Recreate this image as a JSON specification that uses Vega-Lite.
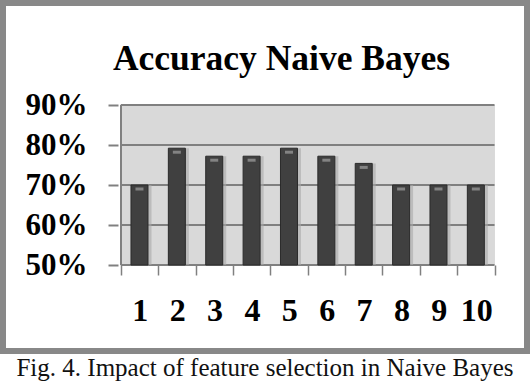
{
  "$schema": "https://vega.github.io/schema/vega-lite/v6.json",
  "autosize": {"type": "none"},
  "width": 524,
  "height": 348,
  "padding": {"left": 3, "top": 3, "right": 3, "bottom": 33},
  "background": "white",
  "config": {
    "view": {"stroke": "#888888", "strokeWidth": 6},
    "title": {"font": "Liberation Serif", "fontWeight": "normal", "fontSize": 25, "color": "#111"}
  },
  "title": {"text": "Fig. 4. Impact of feature selection in Naive Bayes", "orient": "bottom", "offset": 5, "anchor": "middle"},
  "datasets": {
    "bars": [
      {"step": 1, "accuracy": 70.0},
      {"step": 2, "accuracy": 79.2},
      {"step": 3, "accuracy": 77.2},
      {"step": 4, "accuracy": 77.2},
      {"step": 5, "accuracy": 79.2},
      {"step": 6, "accuracy": 77.2},
      {"step": 7, "accuracy": 75.4},
      {"step": 8, "accuracy": 70.0},
      {"step": 9, "accuracy": 70.0},
      {"step": 10, "accuracy": 70.0}
    ],
    "grid": [{"v": 50}, {"v": 60}, {"v": 70}, {"v": 80}, {"v": 90}],
    "titleRow": [{"label": "Accuracy Naive Bayes"}]
  },
  "layer": [
    {
      "data": {"name": "grid"},
      "mark": {"type": "rect", "color": "#d9d9d9"},
      "encoding": {
        "x": {"datum": 0.5, "type": "quantitative", "title": null,
              "scale": {"domain": [-2.518, 11.235], "nice": false, "zero": false},
              "axis": {"values": [0.5,1.5,2.5,3.5,4.5,5.5,6.5,7.5,8.5,9.5,10.5], "offset": -86, "domain": false, "grid": false,
                       "ticks": true, "tickSize": 10, "tickColor": "#808080", "tickWidth": 1.5,
                       "labelExpr": "datum.value < 10 ? '' + (datum.value + 0.5) : ''", "labelOffset": 19,
                       "labelFlush": false, "labelOverlap": false, "labelBound": false,
                       "labelFont": "Liberation Serif", "labelFontWeight": "bold", "labelFontSize": 32, "labelColor": "#000",
                       "labelPadding": 20, "title": null}},
        "x2": {"datum": 10.5},
        "y": {"datum": 50, "type": "quantitative", "title": null,
              "scale": {"domain": [28.5, 115.5], "nice": false, "zero": false},
              "axis": {"values": [50, 60, 70, 80, 90], "offset": -115, "domain": false, "grid": false,
                       "ticks": true, "tickSize": 10, "tickColor": "#808080", "tickWidth": 2,
                       "labelExpr": "datum.value + '%'", "labelFlush": false, "labelOverlap": false, "labelBound": false,
                       "labelFont": "Liberation Serif", "labelFontWeight": "bold", "labelFontSize": 31, "labelColor": "#000",
                       "labelPadding": 21, "title": null}},
        "y2": {"datum": 90}
      }
    },
    {
      "data": {"name": "grid"},
      "mark": {"type": "rule", "color": "#808080", "strokeWidth": 2},
      "encoding": {
        "x": {"datum": 0.5, "type": "quantitative"},
        "x2": {"datum": 10.5},
        "y": {"field": "v", "type": "quantitative", "title": null}
      }
    },
    {
      "data": {"name": "grid"},
      "mark": {"type": "rule", "color": "#808080", "strokeWidth": 1.5},
      "encoding": {
        "x": {"datum": 0.5, "type": "quantitative"},
        "y": {"datum": 50, "type": "quantitative"},
        "y2": {"datum": 90}
      }
    },
    {
      "data": {"name": "bars"},
      "mark": {"type": "bar", "width": 16, "xOffset": 4, "color": "#a8a8a8", "opacity": 0.6},
      "encoding": {
        "x": {"field": "step", "type": "quantitative", "title": null},
        "y": {"field": "accuracy", "type": "quantitative", "title": null},
        "y2": {"datum": 50}
      }
    },
    {
      "data": {"name": "bars"},
      "mark": {"type": "bar", "width": 17, "color": "#404040", "stroke": "#2a2a2a", "strokeWidth": 1},
      "encoding": {
        "x": {"field": "step", "type": "quantitative", "title": null},
        "y": {"field": "accuracy", "type": "quantitative", "title": null},
        "y2": {"datum": 50}
      }
    },
    {
      "data": {"name": "bars"},
      "mark": {"type": "tick", "orient": "horizontal", "size": 8, "thickness": 3, "yOffset": 4, "color": "#a0a0a0"},
      "encoding": {
        "x": {"field": "step", "type": "quantitative", "title": null},
        "y": {"field": "accuracy", "type": "quantitative", "title": null}
      }
    },
    {
      "data": {"name": "titleRow"},
      "mark": {"type": "text", "font": "Liberation Serif", "fontWeight": "bold", "fontSize": 35.5, "align": "center", "baseline": "middle", "color": "#000"},
      "encoding": {
        "x": {"datum": 4.8, "type": "quantitative"},
        "y": {"datum": 101.5, "type": "quantitative"},
        "text": {"field": "label"}
      }
    }
  ]
}
